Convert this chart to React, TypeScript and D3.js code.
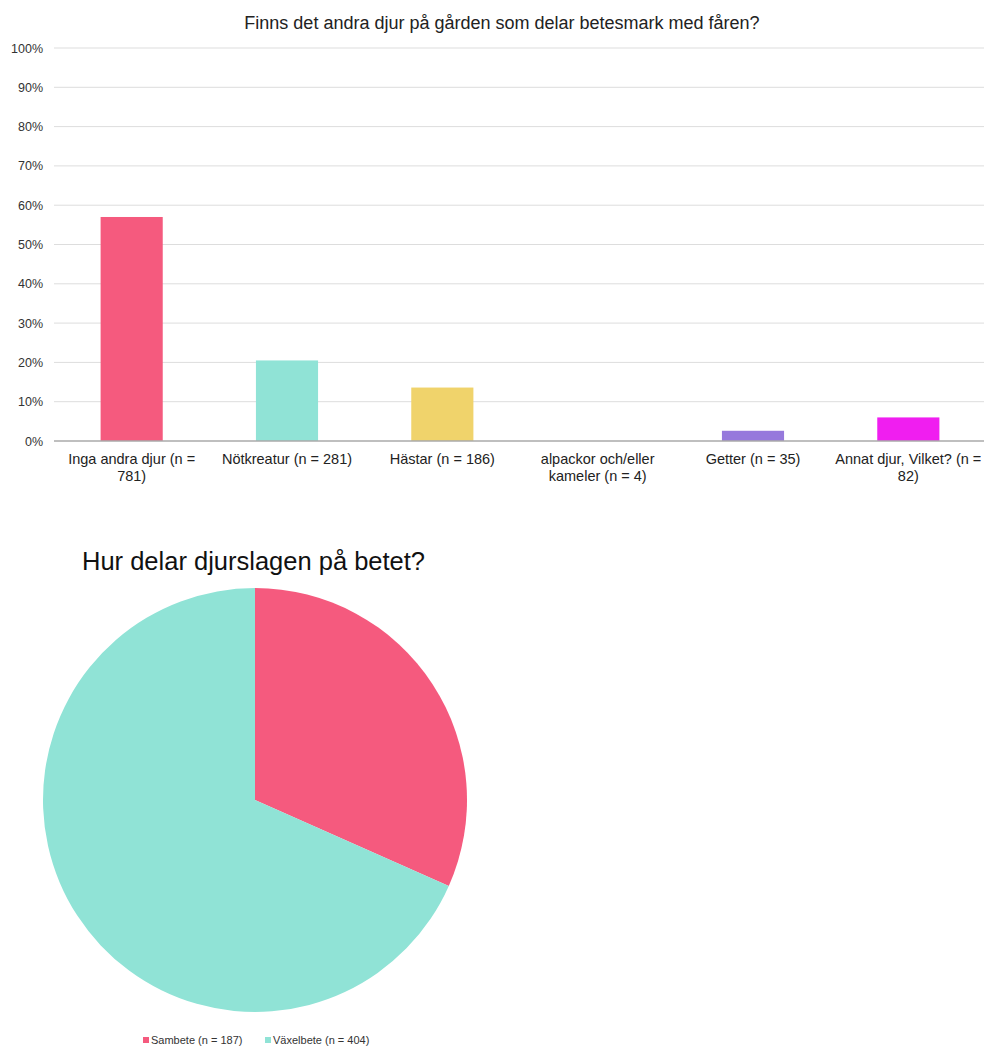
import React from "react";
import * as d3 from "d3";

const categories = [
  ["Inga andra djur (n =", "781)"],
  ["Nötkreatur (n = 281)"],
  ["Hästar (n = 186)"],
  ["alpackor och/eller", "kameler (n = 4)"],
  ["Getter (n = 35)"],
  ["Annat djur, Vilket? (n =", "82)"],
];
const barValues = [57, 20.5, 13.6, 0.3, 2.6, 6.0];
const barColors = ["#F55A7E", "#90E3D6", "#F0D36B", "#FFFFFF", "#9679DC", "#F01EF0"];
const yTicks = [0, 10, 20, 30, 40, 50, 60, 70, 80, 90, 100];

const pieLabels = ["Sambete (n = 187)", "Växelbete (n = 404)"];
const pieValues = [187, 404];
const pieColors = ["#F55A7E", "#90E3D6"];

export default function App() {
  const font = "Arial, 'Liberation Sans', sans-serif";
  const x = d3.scaleBand<number>().domain(d3.range(categories.length)).range([54, 986]).padding(0);
  const y = d3.scaleLinear().domain([0, 100]).range([441, 48]);
  const barW = x.bandwidth() * 0.4;

  const pie = d3.pie<number>().sort(null).value((d) => d)(pieValues);
  const arc = d3.arc<d3.PieArcDatum<number>>().innerRadius(0).outerRadius(212);
  const cx = 255, cy = 800;

  return (
    <svg width={984} height={1046} style={{ position: "absolute", left: 0, top: 0, background: "#fff" }} fontFamily={font}>
      <rect width={984} height={1046} fill="#fff" />
      <text x={502} y={29} textAnchor="middle" fontSize={18} fill="#222">
        Finns det andra djur på gården som delar betesmark med fåren?
      </text>
      {yTicks.map((t) => (
        <g key={t}>
          {t > 0 && <line x1={54} x2={984} y1={y(t)} y2={y(t)} stroke="#DDDDDD" strokeWidth={1} />}
          <text x={43} y={y(t) + 4.5} textAnchor="end" fontSize={12.5} fill="#333">{t}%</text>
        </g>
      ))}
      {barValues.map((v, i) => (
        <rect
          key={i}
          x={(x(i) as number) + x.bandwidth() / 2 - barW / 2}
          y={y(v)}
          width={barW}
          height={y(0) - y(v)}
          fill={barColors[i]}
        />
      ))}
      <line x1={54} x2={984} y1={y(0)} y2={y(0)} stroke="#AAAAAA" strokeWidth={1.5} />
      {categories.map((lines, i) => (
        <text key={i} x={(x(i) as number) + x.bandwidth() / 2} y={464} textAnchor="middle" fontSize={14.5} fill="#222">
          {lines.map((l, j) => (
            <tspan key={j} x={(x(i) as number) + x.bandwidth() / 2} dy={j === 0 ? 0 : 16.5}>{l}</tspan>
          ))}
        </text>
      ))}

      <text x={82} y={570} fontSize={25.5} fill="#111">Hur delar djurslagen på betet?</text>
      <g transform={`translate(${cx},${cy})`}>
        {pie.map((p, i) => (
          <path key={i} d={arc(p) as string} fill={pieColors[i]} />
        ))}
      </g>
      {pieLabels.map((l, i) => {
        const lx = [143, 265][i];
        return (
          <g key={i}>
            <rect x={lx} y={1037} width={6} height={6} fill={pieColors[i]} />
            <text x={lx + 8} y={1044} fontSize={11} fill="#333">{l}</text>
          </g>
        );
      })}
    </svg>
  );
}
